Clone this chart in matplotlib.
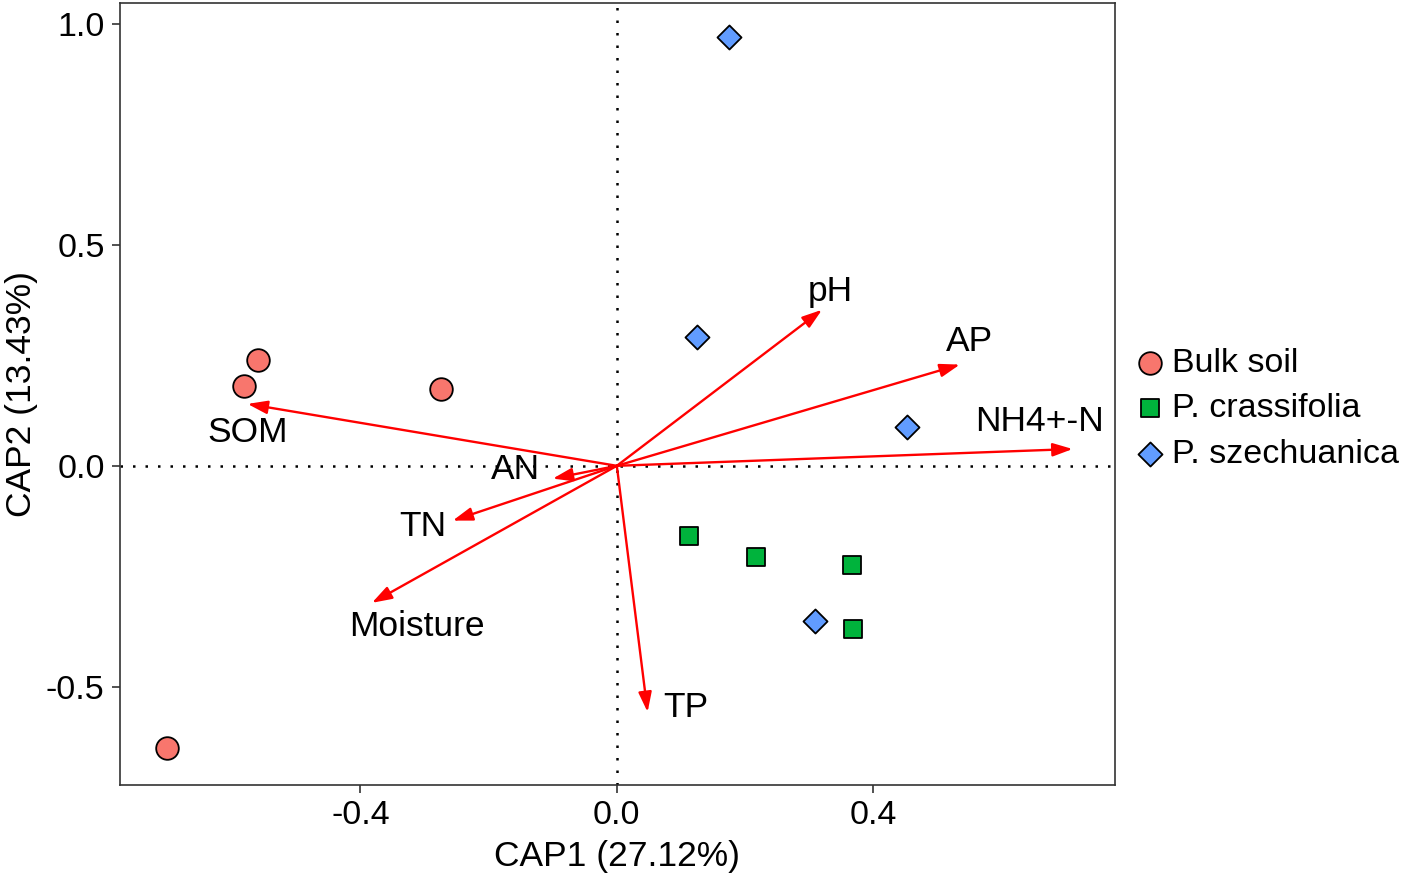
import matplotlib
matplotlib.use('Agg')
import matplotlib.pyplot as plt

plt.rcParams['font.family'] = ['Liberation Sans', 'DejaVu Sans']
plt.rcParams['axes.unicode_minus'] = False

# sample scores
bulk_x = [-0.560, -0.582, -0.275, -0.702]
bulk_y = [0.240, 0.181, 0.174, -0.638]
cras_x = [0.112, 0.217, 0.367, 0.368]
cras_y = [-0.158, -0.206, -0.224, -0.369]
szech_x = [0.175, 0.125, 0.452, 0.309]
szech_y = [0.971, 0.292, 0.088, -0.351]

# environmental vectors
env_names = ['pH', 'AP', 'NH4+-N', 'SOM', 'AN', 'TN', 'Moisture', 'TP']
env_x = [0.320, 0.535, 0.711, -0.576, -0.100, -0.256, -0.382, 0.048]
env_y = [0.353, 0.229, 0.038, 0.140, -0.029, -0.124, -0.310, -0.557]

# label offsets from arrow tips (pixels)
lab_dx = [8, 10, -33, 0, -37, -30, 45, 38]
lab_dy = [18, 23, 28, -29, 9, -6, -24, 5]

fig = plt.figure(figsize=(14.18, 8.81), dpi=100)
ax = fig.add_axes([0.0846, 0.109, 0.7017, 0.8876])

ax.axhline(0, color='black', linestyle=(0, (1, 4)), lw=1.8, zorder=1)
ax.axvline(0, color='black', linestyle=(0, (1, 4)), lw=1.8, zorder=1)

for x, y, name, dx, dy in zip(env_x, env_y, env_names, lab_dx, lab_dy):
    ax.annotate('', xy=(x, y), xytext=(0, 0),
                arrowprops=dict(arrowstyle='-|>,head_length=1.2,head_width=0.4',
                                color='red', lw=1.7, shrinkA=0, shrinkB=0,
                                mutation_scale=10), zorder=2)
    ax.annotate(name, xy=(x, y), xytext=(dx, dy), textcoords='offset pixels',
                ha='center', va='center', fontsize=25.5, color='black', zorder=3)

ax.scatter(bulk_x, bulk_y, s=265, marker='o', c='#F8766D', edgecolors='black',
           linewidths=1.3, label='Bulk soil', zorder=4)
ax.scatter(cras_x, cras_y, s=160, marker='s', c='#00B33C', edgecolors='black',
           linewidths=1.3, label='P. crassifolia', zorder=4)
ax.scatter(szech_x, szech_y, s=150, marker='D', c='#619CFF', edgecolors='black',
           linewidths=1.3, label='P. szechuanica', zorder=4)

ax.set_xlim(-0.775, 0.777)
ax.set_ylim(-0.722, 1.047)
ax.set_xticks([-0.4, 0.0, 0.4])
ax.set_yticks([-0.5, 0.0, 0.5, 1.0])
ax.set_xticklabels(['-0.4', '0.0', '0.4'])
ax.set_yticklabels(['-0.5', '0.0', '0.5', '1.0'])
ax.tick_params(labelsize=24.5, length=6, width=1.2, color='#333333',
               labelcolor='black', pad=5)
for sp in ax.spines.values():
    sp.set_color('#333333')
    sp.set_linewidth(1.2)

ax.set_xlabel('CAP1 (27.12%)', fontsize=25.5, labelpad=6)
ax.set_ylabel('CAP2 (13.43%)', fontsize=25.5, labelpad=6)

fig.legend(loc='center left', bbox_to_anchor=(0.788, 0.536), frameon=False,
           fontsize=24.5, handletextpad=0.1, labelspacing=0.42, borderaxespad=0,
           handlelength=1.1)

fig.savefig('out.png', dpi=100)
